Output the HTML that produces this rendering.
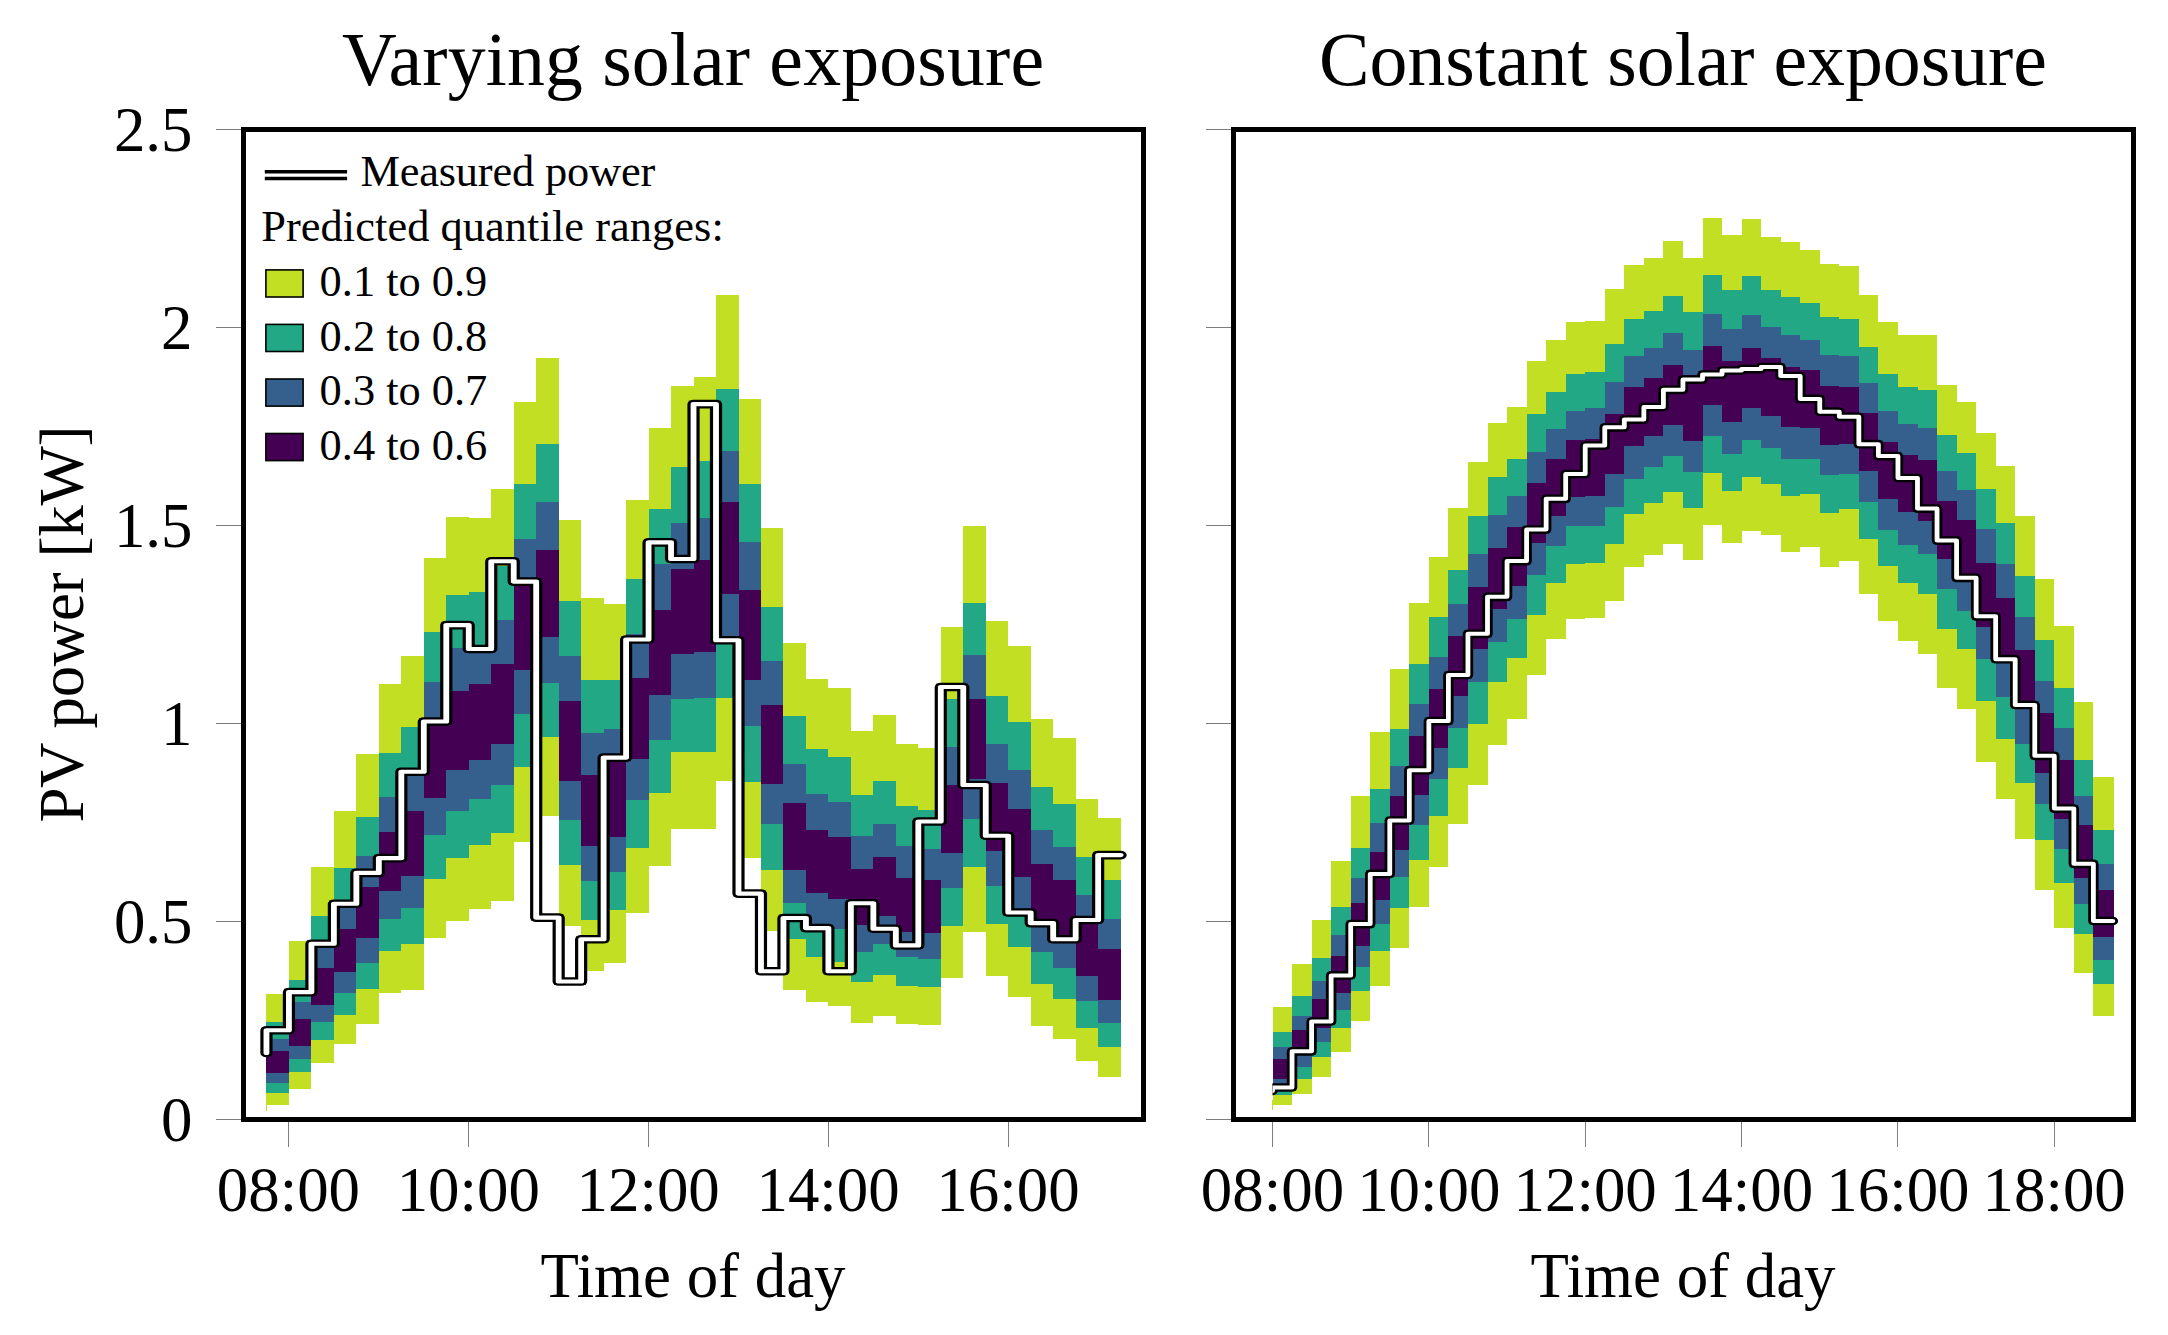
<!DOCTYPE html>
<html><head><meta charset="utf-8"><title>PV power quantile forecast</title>
<style>html,body{margin:0;padding:0;background:#fff}svg{display:block}</style></head>
<body>
<svg width="2168" height="1335" viewBox="0 0 2168 1335" font-family="'Liberation Serif', 'Times New Roman', serif" fill="#000">
<rect width="2168" height="1335" fill="#fff"/>
<defs><clipPath id="c2"><rect x="1272.5" y="0" width="900" height="1335"/></clipPath></defs>
<g shape-rendering="crispEdges">
<path fill="#c2df23" d="M266.4 994.1H288.9V1104.7H266.4ZM288.9 940.9H311.4V1088.9H288.9ZM311.4 867.3H333.9V1062.7H311.4ZM333.9 811.0H356.4V1044.4H333.9ZM356.4 753.9H378.8V1023.9H356.4ZM378.8 683.9H401.3V992.7H378.8ZM401.3 656.1H423.8V990.0H401.3ZM423.8 558.0H446.3V937.9H423.8ZM446.3 517.0H468.8V921.0H446.3ZM468.8 517.8H491.2V908.9H468.8ZM491.2 489.0H513.7V900.7H491.2ZM513.7 401.9H536.2V841.8H513.7ZM536.2 358.1H558.7V816.0H536.2ZM558.7 520.1H581.1V926.1H558.7ZM581.1 598.3H603.6V970.8H581.1ZM603.6 603.9H626.1V962.6H603.6ZM626.1 500.2H648.6V912.9H626.1ZM648.6 428.1H671.1V865.8H648.6ZM671.1 386.1H693.5V829.2H671.1ZM693.5 377.1H716.0V828.6H693.5ZM716.0 295.1H738.5V780.5H716.0ZM738.5 399.2H761.0V857.7H738.5ZM761.0 528.1H783.4V931.2H761.0ZM783.4 643.3H805.9V989.6H783.4ZM805.9 679.0H828.4V1001.6H805.9ZM828.4 688.2H850.9V1005.9H828.4ZM850.9 731.2H873.4V1022.9H850.9ZM873.4 715.0H895.8V1016.0H873.4ZM895.8 744.0H918.3V1023.9H895.8ZM918.3 748.1H940.8V1024.5H918.3ZM940.8 627.1H963.3V977.9H940.8ZM963.3 526.1H985.7V932.2H963.3ZM985.7 621.2H1008.2V975.8H985.7ZM1008.2 646.0H1030.7V996.7H1008.2ZM1030.7 719.0H1053.2V1025.6H1030.7ZM1053.2 737.9H1075.7V1038.8H1053.2ZM1075.7 799.2H1098.1V1060.7H1075.7ZM1098.1 818.1H1120.6V1076.7H1098.1Z"/>
<path fill="#22a884" d="M266.4 1022.1H288.9V1092.9H266.4ZM288.9 979.9H311.4V1071.6H288.9ZM311.4 916.0H333.9V1039.8H311.4ZM333.9 867.9H356.4V1014.8H333.9ZM356.4 817.1H378.8V989.0H356.4ZM378.8 753.1H401.3V950.9H378.8ZM401.3 727.1H423.8V944.0H401.3ZM423.8 631.8H446.3V878.8H423.8ZM446.3 594.6H468.8V858.1H446.3ZM468.8 591.8H491.2V844.9H468.8ZM491.2 566.0H513.7V832.7H491.2ZM513.7 483.9H536.2V766.7H513.7ZM536.2 444.0H558.7V736.9H536.2ZM558.7 600.9H581.1V864.6H558.7ZM581.1 680.1H603.6V920.0H581.1ZM603.6 680.1H626.1V909.9H603.6ZM626.1 578.9H648.6V847.9H626.1ZM648.6 508.9H671.1V792.7H648.6ZM671.1 466.9H693.5V752.1H671.1ZM693.5 460.7H716.0V751.5H693.5ZM716.0 388.8H738.5V697.7H716.0ZM738.5 483.9H761.0V781.9H738.5ZM761.0 607.0H783.4V869.9H761.0ZM783.4 716.0H805.9V939.3H783.4ZM805.9 748.9H828.4V956.6H805.9ZM828.4 757.0H850.9V961.6H828.4ZM850.9 795.1H873.4V981.9H850.9ZM873.4 780.9H895.8V974.8H873.4ZM895.8 805.9H918.3V986.0H895.8ZM918.3 810.0H940.8V987.0H918.3ZM940.8 699.3H963.3V926.1H940.8ZM963.3 602.9H985.7V866.8H963.3ZM985.7 696.1H1008.2V924.1H985.7ZM1008.2 722.1H1030.7V947.0H1008.2ZM1030.7 787.0H1053.2V984.0H1030.7ZM1053.2 803.9H1075.7V998.8H1053.2ZM1075.7 857.1H1098.1V1028.0H1075.7ZM1098.1 880.0H1120.6V1046.9H1098.1Z"/>
<path fill="#355f8d" d="M266.4 1039.2H288.9V1082.8H266.4ZM288.9 1001.8H311.4V1059.1H288.9ZM311.4 944.4H333.9V1021.9H311.4ZM333.9 904.8H356.4V993.1H333.9ZM356.4 855.7H378.8V962.6H356.4ZM378.8 796.8H401.3V919.0H378.8ZM401.3 772.8H423.8V908.3H401.3ZM423.8 681.5H446.3V835.3H423.8ZM446.3 648.0H468.8V811.4H446.3ZM468.8 648.0H491.2V798.8H468.8ZM491.2 620.0H513.7V785.0H491.2ZM513.7 538.9H536.2V714.0H513.7ZM536.2 501.8H558.7V682.9H536.2ZM558.7 656.1H581.1V819.5H558.7ZM581.1 732.8H603.6V880.9H581.1ZM603.6 729.2H626.1V871.7H603.6ZM626.1 633.8H648.6V800.2H626.1ZM648.6 563.7H671.1V740.3H648.6ZM671.1 523.1H693.5V698.7H671.1ZM693.5 518.0H716.0V697.7H693.5ZM716.0 450.8H738.5V640.5H716.0ZM738.5 541.9H761.0V725.7H738.5ZM761.0 661.2H783.4V823.6H761.0ZM783.4 764.1H805.9V903.2H783.4ZM805.9 794.1H828.4V928.1H805.9ZM828.4 801.8H850.9V928.7H828.4ZM850.9 836.1H873.4V951.5H850.9ZM873.4 824.2H895.8V944.4H873.4ZM895.8 845.9H918.3V956.6H895.8ZM918.3 848.9H940.8V959.0H918.3ZM940.8 747.0H963.3V888.0H940.8ZM963.3 655.1H985.7V819.1H963.3ZM985.7 744.0H1008.2V885.9H985.7ZM1008.2 769.8H1030.7V912.9H1008.2ZM1030.7 830.1H1053.2V951.5H1030.7ZM1053.2 846.5H1075.7V968.1H1053.2ZM1075.7 895.1H1098.1V1001.2H1075.7ZM1098.1 919.0H1120.6V1022.9H1098.1Z"/>
<path fill="#440154" d="M266.4 1050.9H288.9V1072.9H266.4ZM288.9 1018.5H311.4V1045.9H288.9ZM311.4 967.7H333.9V1005.3H311.4ZM333.9 929.2H356.4V971.8H333.9ZM356.4 887.1H378.8V937.9H356.4ZM378.8 832.1H401.3V890.6H378.8ZM401.3 811.0H423.8V876.0H401.3ZM423.8 720.0H446.3V798.2H423.8ZM446.3 690.6H468.8V769.8H446.3ZM468.8 683.5H491.2V759.6H468.8ZM491.2 663.6H513.7V744.0H491.2ZM513.7 583.0H536.2V669.9H513.7ZM536.2 549.9H558.7V636.8H536.2ZM558.7 700.8H581.1V780.9H558.7ZM581.1 774.8H603.6V845.9H581.1ZM603.6 756.6H626.1V836.7H603.6ZM626.1 678.0H648.6V758.6H626.1ZM648.6 609.8H671.1V695.3H648.6ZM671.1 568.8H693.5V654.1H671.1ZM693.5 560.3H716.0V652.1H693.5ZM716.0 501.9H738.5V593.8H716.0ZM738.5 589.7H761.0V679.5H738.5ZM761.0 704.8H783.4V784.0H761.0ZM783.4 802.9H805.9V869.9H783.4ZM805.9 830.1H828.4V893.0H805.9ZM828.4 836.7H850.9V898.7H828.4ZM850.9 868.7H873.4V925.1H850.9ZM873.4 857.1H895.8V916.0H873.4ZM895.8 877.8H918.3V932.2H895.8ZM918.3 879.8H940.8V933.2H918.3ZM940.8 785.0H963.3V853.0H940.8ZM963.3 699.1H985.7V778.5H963.3ZM985.7 783.0H1008.2V850.6H985.7ZM1008.2 808.9H1030.7V877.4H1008.2ZM1030.7 863.8H1053.2V925.1H1030.7ZM1053.2 879.8H1075.7V939.3H1053.2ZM1075.7 920.0H1098.1V976.2H1075.7ZM1098.1 948.8H1120.6V1000.2H1098.1Z"/>
<path fill="#c2df23" d="M1272.5 1006.9H1292.0V1104.7H1272.5ZM1292.0 964.1H1311.6V1093.6H1292.0ZM1311.6 920.0H1331.1V1076.7H1311.6ZM1331.1 860.8H1350.7V1051.9H1331.1ZM1350.7 796.2H1370.2V1020.5H1350.7ZM1370.2 731.8H1389.8V985.6H1370.2ZM1389.8 668.7H1409.3V947.8H1389.8ZM1409.3 602.9H1428.9V906.8H1409.3ZM1428.9 557.0H1448.4V866.8H1428.9ZM1448.4 507.9H1468.0V823.6H1448.4ZM1468.0 461.8H1487.5V784.6H1468.0ZM1487.5 423.1H1507.0V744.8H1487.5ZM1507.0 407.0H1526.6V719.0H1507.0ZM1526.6 360.7H1546.1V675.4H1526.6ZM1546.1 340.0H1565.7V638.9H1546.1ZM1565.7 322.2H1585.2V618.6H1565.7ZM1585.2 321.2H1604.8V618.0H1585.2ZM1604.8 288.9H1624.3V600.9H1604.8ZM1624.3 264.9H1643.9V567.4H1624.3ZM1643.9 258.3H1663.4V555.0H1643.9ZM1663.4 241.2H1682.9V543.8H1663.4ZM1682.9 258.3H1702.5V559.6H1682.9ZM1702.5 218.3H1722.0V525.1H1702.5ZM1722.0 234.9H1741.6V543.4H1722.0ZM1741.6 219.3H1761.1V531.2H1741.6ZM1761.1 237.1H1780.7V534.9H1761.1ZM1780.7 242.2H1800.2V551.5H1780.7ZM1800.2 250.1H1819.8V547.1H1800.2ZM1819.8 263.9H1839.3V566.7H1819.8ZM1839.3 266.0H1858.8V560.7H1839.3ZM1858.8 295.0H1878.4V593.8H1858.8ZM1878.4 322.2H1897.9V620.6H1878.4ZM1897.9 335.1H1917.5V640.7H1897.9ZM1917.5 335.1H1937.0V653.8H1917.5ZM1937.0 385.1H1956.6V687.6H1937.0ZM1956.6 402.0H1976.1V708.9H1956.6ZM1976.1 432.5H1995.7V761.7H1976.1ZM1995.7 466.0H2015.2V798.8H1995.7ZM2015.2 516.2H2034.8V839.1H2015.2ZM2034.8 579.2H2054.3V889.7H2034.8ZM2054.3 626.1H2073.8V927.9H2054.3ZM2073.8 702.2H2093.4V973.0H2073.8ZM2093.4 777.0H2113.9V1015.8H2093.4Z"/>
<path fill="#22a884" d="M1272.5 1032.1H1292.0V1095.0H1272.5ZM1292.0 995.7H1311.6V1079.3H1292.0ZM1311.6 958.0H1331.1V1057.0H1311.6ZM1331.1 907.2H1350.7V1028.0H1331.1ZM1350.7 847.5H1370.2V990.7H1350.7ZM1370.2 789.1H1389.8V950.9H1370.2ZM1389.8 729.2H1409.3V907.8H1389.8ZM1409.3 664.2H1428.9V859.7H1409.3ZM1428.9 616.9H1448.4V815.8H1428.9ZM1448.4 570.4H1468.0V767.7H1448.4ZM1468.0 516.0H1487.5V724.1H1468.0ZM1487.5 477.0H1507.0V681.9H1487.5ZM1507.0 459.2H1526.6V657.7H1507.0ZM1526.6 414.1H1546.1V614.9H1526.6ZM1546.1 392.2H1565.7V583.0H1546.1ZM1565.7 374.3H1585.2V563.7H1565.7ZM1585.2 371.9H1604.8V562.7H1585.2ZM1604.8 344.1H1624.3V544.4H1604.8ZM1624.3 319.1H1643.9V513.6H1624.3ZM1643.9 311.0H1663.4V503.2H1643.9ZM1663.4 296.0H1682.9V492.1H1663.4ZM1682.9 311.6H1702.5V507.9H1682.9ZM1702.5 275.1H1722.0V473.4H1702.5ZM1722.0 289.9H1741.6V490.6H1722.0ZM1741.6 276.1H1761.1V477.0H1741.6ZM1761.1 290.3H1780.7V483.9H1761.1ZM1780.7 296.8H1800.2V495.7H1780.7ZM1800.2 303.1H1819.8V494.3H1800.2ZM1819.8 317.3H1839.3V512.6H1819.8ZM1839.3 319.1H1858.8V508.9H1839.3ZM1858.8 347.1H1878.4V538.7H1858.8ZM1878.4 374.1H1897.9V566.1H1878.4ZM1897.9 387.0H1917.5V582.5H1897.9ZM1917.5 390.2H1937.0V593.8H1917.5ZM1937.0 434.9H1956.6V629.1H1937.0ZM1956.6 453.2H1976.1V649.0H1956.6ZM1976.1 488.9H1995.7V700.6H1976.1ZM1995.7 523.1H2015.2V738.8H1995.7ZM2015.2 576.0H2034.8V783.1H2015.2ZM2034.8 640.2H2054.3V840.2H2034.8ZM2054.3 688.2H2073.8V883.0H2054.3ZM2073.8 759.5H2093.4V933.6H2073.8ZM2093.4 830.0H2113.9V983.7H2093.4Z"/>
<path fill="#355f8d" d="M1272.5 1046.9H1292.0V1087.5H1272.5ZM1292.0 1016.0H1311.6V1066.8H1292.0ZM1311.6 980.9H1331.1V1041.8H1311.6ZM1331.1 934.8H1350.7V1009.7H1331.1ZM1350.7 878.0H1370.2V967.1H1350.7ZM1370.2 822.9H1389.8V924.1H1370.2ZM1389.8 766.1H1409.3V877.0H1389.8ZM1409.3 704.2H1428.9V825.0H1409.3ZM1428.9 657.1H1448.4V778.5H1428.9ZM1448.4 603.9H1468.0V727.8H1448.4ZM1468.0 554.0H1487.5V681.5H1468.0ZM1487.5 515.0H1507.0V641.5H1487.5ZM1507.0 496.1H1526.6V618.6H1507.0ZM1526.6 452.1H1546.1V574.9H1526.6ZM1546.1 429.3H1565.7V545.8H1546.1ZM1565.7 410.9H1585.2V526.2H1565.7ZM1585.2 408.0H1604.8V525.7H1585.2ZM1604.8 382.1H1624.3V506.9H1604.8ZM1624.3 356.3H1643.9V478.5H1624.3ZM1643.9 347.5H1663.4V466.9H1643.9ZM1663.4 332.9H1682.9V455.7H1663.4ZM1682.9 350.0H1702.5V471.8H1682.9ZM1702.5 314.1H1722.0V435.8H1702.5ZM1722.0 328.9H1741.6V453.7H1722.0ZM1741.6 315.1H1761.1V439.9H1741.6ZM1761.1 327.3H1780.7V448.0H1761.1ZM1780.7 335.0H1800.2V458.6H1780.7ZM1800.2 340.0H1819.8V458.8H1800.2ZM1819.8 354.7H1839.3V475.4H1819.8ZM1839.3 355.9H1858.8V474.0H1839.3ZM1858.8 382.7H1878.4V501.8H1858.8ZM1878.4 411.1H1897.9V530.2H1878.4ZM1897.9 424.0H1917.5V545.3H1897.9ZM1917.5 427.8H1937.0V553.8H1917.5ZM1937.0 471.0H1956.6V589.4H1937.0ZM1956.6 489.8H1976.1V611.2H1956.6ZM1976.1 528.9H1995.7V659.2H1976.1ZM1995.7 564.1H2015.2V696.9H1995.7ZM2015.2 616.7H2034.8V744.3H2015.2ZM2034.8 681.0H2054.3V804.2H2034.8ZM2054.3 727.9H2073.8V848.9H2054.3ZM2073.8 796.2H2093.4V903.8H2073.8ZM2093.4 863.8H2113.9V959.8H2093.4Z"/>
<path fill="#440154" d="M1272.5 1059.1H1292.0V1078.9H1272.5ZM1292.0 1030.0H1311.6V1051.9H1292.0ZM1311.6 998.8H1331.1V1027.6H1311.6ZM1331.1 955.9H1350.7V992.7H1331.1ZM1350.7 903.2H1370.2V945.8H1350.7ZM1370.2 852.0H1389.8V899.7H1370.2ZM1389.8 795.7H1409.3V849.9H1389.8ZM1409.3 735.9H1428.9V795.1H1409.3ZM1428.9 689.0H1448.4V748.1H1428.9ZM1448.4 636.2H1468.0V696.1H1448.4ZM1468.0 586.7H1487.5V649.0H1468.0ZM1487.5 547.9H1507.0V609.0H1487.5ZM1507.0 527.2H1526.6V585.7H1507.0ZM1526.6 482.9H1546.1V542.8H1526.6ZM1546.1 459.2H1565.7V515.6H1546.1ZM1565.7 439.9H1585.2V496.7H1565.7ZM1585.2 438.9H1604.8V495.7H1585.2ZM1604.8 414.1H1624.3V474.0H1604.8ZM1624.3 387.1H1643.9V446.0H1624.3ZM1643.9 378.0H1663.4V435.8H1643.9ZM1663.4 365.2H1682.9V425.1H1663.4ZM1682.9 374.9H1702.5V440.9H1682.9ZM1702.5 345.7H1722.0V405.0H1702.5ZM1722.0 360.7H1741.6V421.6H1722.0ZM1741.6 347.8H1761.1V408.4H1741.6ZM1761.1 358.3H1780.7V415.9H1761.1ZM1780.7 366.8H1800.2V427.3H1780.7ZM1800.2 370.1H1819.8V427.7H1800.2ZM1819.8 385.7H1839.3V445.0H1819.8ZM1839.3 387.1H1858.8V444.4H1839.3ZM1858.8 412.7H1878.4V470.9H1858.8ZM1878.4 441.5H1897.9V499.2H1878.4ZM1897.9 455.0H1917.5V512.4H1897.9ZM1917.5 459.7H1937.0V520.9H1917.5ZM1937.0 501.1H1956.6V559.0H1937.0ZM1956.6 519.9H1976.1V578.5H1956.6ZM1976.1 563.2H1995.7V627.2H1976.1ZM1995.7 598.2H2015.2V661.4H1995.7ZM2015.2 649.8H2034.8V708.3H2015.2ZM2034.8 713.3H2054.3V773.3H2034.8ZM2054.3 760.2H2073.8V819.0H2054.3ZM2073.8 824.9H2093.4V877.9H2073.8ZM2093.4 890.1H2113.9V936.6H2093.4Z"/>
<rect x="265.6" y="1100" width="1" height="11" fill="#c2df23"/><rect x="1271.8" y="1100" width="1" height="10" fill="#c2df23"/>
</g>
<g><g transform="scale(1.42 1)" fill="none">
<path d="M187.64 1053.0V1030.2H203.47V992.1H219.30V943.8H235.13V903.8H250.96V872.9H266.79V858.1H282.62V771.8H298.45V721.5H314.28V625.1H330.11V649.0H345.94V561.3H361.77V581.6H377.60V917.6H393.43V981.5H409.25V939.3H425.08V757.6H440.91V639.5H456.74V542.4H472.57V559.0H488.40V404.1H504.23V640.3H520.06V893.6H535.89V971.2H551.72V918.0H567.55V928.1H583.38V971.2H599.21V903.2H615.04V928.7H630.87V945.4H646.70V821.5H662.53V687.0H678.36V785.0H694.19V835.7H710.02V912.5H725.85V923.1H741.68V939.3H757.51V920.0H773.34V855.1H789.16" stroke="#000" stroke-width="6.6" stroke-linejoin="miter" stroke-linecap="butt"/>
<path d="M187.64 1053.0V1030.2H203.47V992.1H219.30V943.8H235.13V903.8H250.96V872.9H266.79V858.1H282.62V771.8H298.45V721.5H314.28V625.1H330.11V649.0H345.94V561.3H361.77V581.6H377.60V917.6H393.43V981.5H409.25V939.3H425.08V757.6H440.91V639.5H456.74V542.4H472.57V559.0H488.40V404.1H504.23V640.3H520.06V893.6H535.89V971.2H551.72V918.0H567.55V928.1H583.38V971.2H599.21V903.2H615.04V928.7H630.87V945.4H646.70V821.5H662.53V687.0H678.36V785.0H694.19V835.7H710.02V912.5H725.85V923.1H741.68V939.3H757.51V920.0H773.34V855.1H789.16" stroke="#000" stroke-width="8.6" stroke-linejoin="round" stroke-linecap="round"/>
<path d="M187.64 1053.0V1030.2H203.47V992.1H219.30V943.8H235.13V903.8H250.96V872.9H266.79V858.1H282.62V771.8H298.45V721.5H314.28V625.1H330.11V649.0H345.94V561.3H361.77V581.6H377.60V917.6H393.43V981.5H409.25V939.3H425.08V757.6H440.91V639.5H456.74V542.4H472.57V559.0H488.40V404.1H504.23V640.3H520.06V893.6H535.89V971.2H551.72V918.0H567.55V928.1H583.38V971.2H599.21V903.2H615.04V928.7H630.87V945.4H646.70V821.5H662.53V687.0H678.36V785.0H694.19V835.7H710.02V912.5H725.85V923.1H741.68V939.3H757.51V920.0H773.34V855.1H789.16" stroke="#fff" stroke-width="4.1" stroke-linejoin="round" stroke-linecap="round"/>
</g></g>
<g clip-path="url(#c2)"><g transform="scale(1.20 1)" fill="none">
<path d="M1060.42 1091.0V1087.5H1076.70V1051.3H1092.99V1021.5H1109.28V975.4H1125.57V924.1H1141.85V873.9H1158.14V820.5H1174.43V770.2H1190.72V721.1H1207.00V675.0H1223.29V633.8H1239.58V596.8H1255.87V561.1H1272.15V529.6H1288.44V498.8H1304.73V474.0H1321.02V445.6H1337.30V427.3H1353.59V419.6H1369.88V407.0H1386.17V389.8H1402.45V379.6H1418.74V374.5H1435.03V370.5H1451.32V369.1H1467.60V367.0H1483.89V376.0H1500.18V398.9H1516.47V411.7H1532.75V416.8H1549.04V444.2H1565.33V456.1H1581.62V478.0H1597.90V508.6H1614.19V540.6H1630.48V577.8H1646.77V616.3H1663.05V659.2H1679.34V705.0H1695.63V755.8H1711.92V808.6H1728.20V863.8H1744.49V921.0H1760.78" stroke="#000" stroke-width="6.7" stroke-linejoin="miter" stroke-linecap="butt"/>
<path d="M1060.42 1091.0V1087.5H1076.70V1051.3H1092.99V1021.5H1109.28V975.4H1125.57V924.1H1141.85V873.9H1158.14V820.5H1174.43V770.2H1190.72V721.1H1207.00V675.0H1223.29V633.8H1239.58V596.8H1255.87V561.1H1272.15V529.6H1288.44V498.8H1304.73V474.0H1321.02V445.6H1337.30V427.3H1353.59V419.6H1369.88V407.0H1386.17V389.8H1402.45V379.6H1418.74V374.5H1435.03V370.5H1451.32V369.1H1467.60V367.0H1483.89V376.0H1500.18V398.9H1516.47V411.7H1532.75V416.8H1549.04V444.2H1565.33V456.1H1581.62V478.0H1597.90V508.6H1614.19V540.6H1630.48V577.8H1646.77V616.3H1663.05V659.2H1679.34V705.0H1695.63V755.8H1711.92V808.6H1728.20V863.8H1744.49V921.0H1760.78" stroke="#000" stroke-width="8.7" stroke-linejoin="round" stroke-linecap="round"/>
<path d="M1060.42 1091.0V1087.5H1076.70V1051.3H1092.99V1021.5H1109.28V975.4H1125.57V924.1H1141.85V873.9H1158.14V820.5H1174.43V770.2H1190.72V721.1H1207.00V675.0H1223.29V633.8H1239.58V596.8H1255.87V561.1H1272.15V529.6H1288.44V498.8H1304.73V474.0H1321.02V445.6H1337.30V427.3H1353.59V419.6H1369.88V407.0H1386.17V389.8H1402.45V379.6H1418.74V374.5H1435.03V370.5H1451.32V369.1H1467.60V367.0H1483.89V376.0H1500.18V398.9H1516.47V411.7H1532.75V416.8H1549.04V444.2H1565.33V456.1H1581.62V478.0H1597.90V508.6H1614.19V540.6H1630.48V577.8H1646.77V616.3H1663.05V659.2H1679.34V705.0H1695.63V755.8H1711.92V808.6H1728.20V863.8H1744.49V921.0H1760.78" stroke="#fff" stroke-width="4.0" stroke-linejoin="round" stroke-linecap="round"/>
</g></g>
<g shape-rendering="crispEdges">
<rect x="216.0" y="1119" width="25.5" height="1" fill="#7d7d7d"/><rect x="216.0" y="921" width="25.5" height="1" fill="#7d7d7d"/><rect x="216.0" y="723" width="25.5" height="1" fill="#7d7d7d"/><rect x="216.0" y="525" width="25.5" height="1" fill="#7d7d7d"/><rect x="216.0" y="327" width="25.5" height="1" fill="#7d7d7d"/><rect x="216.0" y="129" width="25.5" height="1" fill="#7d7d7d"/>
<rect x="1206.0" y="1119" width="25.5" height="1" fill="#7d7d7d"/><rect x="1206.0" y="921" width="25.5" height="1" fill="#7d7d7d"/><rect x="1206.0" y="723" width="25.5" height="1" fill="#7d7d7d"/><rect x="1206.0" y="525" width="25.5" height="1" fill="#7d7d7d"/><rect x="1206.0" y="327" width="25.5" height="1" fill="#7d7d7d"/><rect x="1206.0" y="129" width="25.5" height="1" fill="#7d7d7d"/>
<rect x="288" y="1121" width="1" height="26" fill="#7d7d7d"/><rect x="468" y="1121" width="1" height="26" fill="#7d7d7d"/><rect x="648" y="1121" width="1" height="26" fill="#7d7d7d"/><rect x="828" y="1121" width="1" height="26" fill="#7d7d7d"/><rect x="1008" y="1121" width="1" height="26" fill="#7d7d7d"/>
<rect x="1272" y="1121" width="1" height="26" fill="#7d7d7d"/><rect x="1428" y="1121" width="1" height="26" fill="#7d7d7d"/><rect x="1585" y="1121" width="1" height="26" fill="#7d7d7d"/><rect x="1741" y="1121" width="1" height="26" fill="#7d7d7d"/><rect x="1897" y="1121" width="1" height="26" fill="#7d7d7d"/><rect x="2054" y="1121" width="1" height="26" fill="#7d7d7d"/>
</g>
<rect x="243.50" y="129.50" width="900.00" height="990.00" fill="none" stroke="#000" stroke-width="5.0"/>
<rect x="1233.50" y="129.50" width="900.00" height="990.00" fill="none" stroke="#000" stroke-width="5.0"/>
<text x="192.5" y="1140.5" font-size="62.9" text-anchor="end">0</text>
<text x="192.5" y="942.5" font-size="62.9" text-anchor="end">0.5</text>
<text x="192.5" y="744.5" font-size="62.9" text-anchor="end">1</text>
<text x="192.5" y="546.5" font-size="62.9" text-anchor="end">1.5</text>
<text x="192.5" y="348.5" font-size="62.9" text-anchor="end">2</text>
<text x="192.5" y="150.5" font-size="62.9" text-anchor="end">2.5</text>
<text x="288.4" y="1210.7" font-size="62.9" text-anchor="middle">08:00</text>
<text x="468.3" y="1210.7" font-size="62.9" text-anchor="middle">10:00</text>
<text x="648.2" y="1210.7" font-size="62.9" text-anchor="middle">12:00</text>
<text x="828.1" y="1210.7" font-size="62.9" text-anchor="middle">14:00</text>
<text x="1008.0" y="1210.7" font-size="62.9" text-anchor="middle">16:00</text>
<text x="1272.5" y="1210.7" font-size="62.9" text-anchor="middle">08:00</text>
<text x="1428.8" y="1210.7" font-size="62.9" text-anchor="middle">10:00</text>
<text x="1585.2" y="1210.7" font-size="62.9" text-anchor="middle">12:00</text>
<text x="1741.5" y="1210.7" font-size="62.9" text-anchor="middle">14:00</text>
<text x="1897.9" y="1210.7" font-size="62.9" text-anchor="middle">16:00</text>
<text x="2054.2" y="1210.7" font-size="62.9" text-anchor="middle">18:00</text>
<text x="693" y="1297.4" font-size="62.9" text-anchor="middle">Time of day</text>
<text x="1683" y="1297.4" font-size="62.9" text-anchor="middle">Time of day</text>
<text transform="translate(82.7 624.1) rotate(-90)" font-size="62.9" text-anchor="middle" textLength="397" lengthAdjust="spacing">PV power [kW]</text>
<text x="693" y="85.3" font-size="75.75" text-anchor="middle" textLength="702" lengthAdjust="spacing">Varying solar exposure</text>
<text x="1683" y="85.3" font-size="75.75" text-anchor="middle">Constant solar exposure</text>
<path d="M264.8 175.05H347.1" fill="none" stroke="#000" stroke-width="10.2"/>
<path d="M264 175.05H348" fill="none" stroke="#fff" stroke-width="3.3"/>
<text x="360.4" y="185.6" font-size="44.4" textLength="294.8" lengthAdjust="spacing">Measured power</text>
<text x="261.2" y="240.7" font-size="44.4" textLength="462.6" lengthAdjust="spacing">Predicted quantile ranges:</text>
<rect x="265.9" y="269.9" width="37.2" height="27.1" fill="#c2df23" stroke="#000" stroke-width="1.6"/>
<text x="319.6" y="296.4" font-size="44.4">0.1 to 0.9</text>
<rect x="265.9" y="324.4" width="37.2" height="27.1" fill="#22a884" stroke="#000" stroke-width="1.6"/>
<text x="319.6" y="350.8" font-size="44.4">0.2 to 0.8</text>
<rect x="265.9" y="379.0" width="37.2" height="27.1" fill="#355f8d" stroke="#000" stroke-width="1.6"/>
<text x="319.6" y="405.2" font-size="44.4">0.3 to 0.7</text>
<rect x="265.9" y="433.5" width="37.2" height="27.1" fill="#440154" stroke="#000" stroke-width="1.6"/>
<text x="319.6" y="459.6" font-size="44.4">0.4 to 0.6</text>
</svg>
</body></html>
